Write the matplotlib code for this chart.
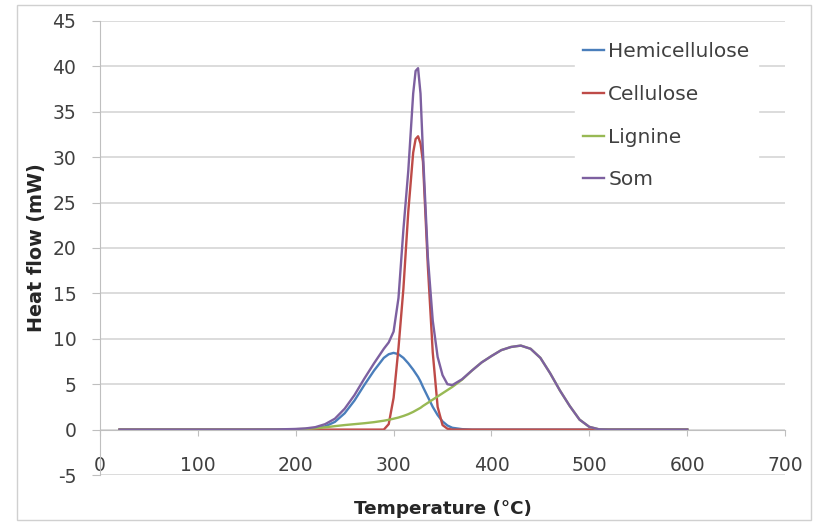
"""DSC heat flow deconvolution: hemicellulose / cellulose / lignine and their sum."""
import numpy as np
import matplotlib
matplotlib.use("Agg")
import matplotlib.pyplot as plt
from matplotlib.patches import Rectangle

plt.rcParams['font.family'] = ['DejaVu Sans']
plt.rcParams['axes.unicode_minus'] = False

# --- data (°C, mW) ---
temperature = [20, 50, 100, 150, 180, 200, 210, 220, 230, 240, 250, 260, 270, 280,
               290, 295, 300, 305, 310, 315, 320, 322.5, 325, 327.5, 330, 335, 340,
               345, 350, 355, 360, 370, 380, 390, 400, 410, 420, 430, 440, 450, 460,
               470, 480, 490, 500, 510, 520, 550, 600]
hemicellulose = [0, 0, 0, 0, 0, 0.02, 0.05, 0.12, 0.35, 0.85, 1.8, 3.2, 4.9, 6.5,
                 7.9, 8.3, 8.45, 8.3, 7.9, 7.3, 6.6, 6.2, 5.8, 5.3, 4.7, 3.6, 2.5,
                 1.6, 0.9, 0.45, 0.2, 0.05, 0, 0, 0, 0, 0, 0, 0, 0, 0,
                 0, 0, 0, 0, 0, 0, 0, 0]
cellulose = [0, 0, 0, 0, 0, 0, 0, 0, 0, 0, 0, 0, 0, 0,
             0, 0.6, 3.5, 9, 15.5, 24, 30.5, 32, 32.3, 31.5, 29.5, 18, 8.5,
             2.5, 0.5, 0.1, 0, 0, 0, 0, 0, 0, 0, 0, 0, 0, 0,
             0, 0, 0, 0, 0, 0, 0, 0]
lignine = [0, 0, 0, 0, 0.02, 0.05, 0.08, 0.15, 0.25, 0.38, 0.5, 0.6, 0.7, 0.82,
           0.98, 1.08, 1.2, 1.33, 1.5, 1.7, 1.95, 2.1, 2.25, 2.4, 2.6, 2.95, 3.3,
           3.65, 4.0, 4.35, 4.7, 5.5, 6.5, 7.4, 8.1, 8.75, 9.1, 9.25, 8.9, 7.9, 6.2,
           4.3, 2.6, 1.1, 0.3, 0.03, 0, 0, 0]
som = [0, 0, 0, 0, 0.02, 0.07, 0.13, 0.27, 0.6, 1.2, 2.3, 3.8, 5.6, 7.3,
       8.9, 9.6, 10.8, 14.5, 22, 28.5, 37, 39.5, 39.8, 37, 30.5, 19, 12,
       8, 6, 5.0, 4.9, 5.55, 6.5, 7.4, 8.1, 8.75, 9.1, 9.25, 8.9, 7.9, 6.2,
       4.3, 2.6, 1.1, 0.3, 0.03, 0, 0, 0]

series = [("Hemicellulose", hemicellulose, "#4A7EBB"),
          ("Cellulose", cellulose, "#BE4B48"),
          ("Lignine", lignine, "#98B954"),
          ("Som", som, "#7D60A0")]

fig = plt.figure(figsize=(8.14, 5.24), dpi=100)
ax = fig.add_axes([0.1229, 0.0935, 0.8415, 0.8665])

for name, vals, col in series:
    ax.plot(temperature, vals, color=col, lw=1.7, label=name, solid_joinstyle="round")

ax.set_xlim(0, 700)
ax.set_ylim(-5, 45)
ax.set_xticks(range(0, 701, 100))
ax.set_yticks(range(-5, 46, 5))
ax.grid(axis="y", color="#D9D9D9", lw=1.3)
ax.set_axisbelow(True)

for s in ["top", "right"]:
    ax.spines[s].set_visible(False)
ax.spines["left"].set_color("#BFBFBF")
ax.spines["bottom"].set_position(("data", 0))
ax.spines["bottom"].set_color("#BFBFBF")
ax.tick_params(axis="both", colors="#BFBFBF", labelcolor="#404040", labelsize=13.5)
ax.tick_params(axis="y", length=6, pad=11)
ax.tick_params(axis="x", length=4, pad=15)

ax.set_xlabel("Temperature (°C)", fontsize=13.2, fontweight="bold", color="#262626", labelpad=18)
ax.set_ylabel("Heat flow (mW)", fontsize=13.8, fontweight="bold", color="#262626", labelpad=5)

leg = ax.legend(loc="upper left", bbox_to_anchor=(575 / 814, 1 - 34 / 524),
                bbox_transform=fig.transFigure, borderaxespad=0, frameon=True,
                fontsize=14.5, handlelength=1.05, handletextpad=0.2, labelspacing=1.18,
                borderpad=0.4)
leg.get_frame().set_edgecolor("white")
leg.get_frame().set_facecolor("white")
leg.get_frame().set_alpha(1)
leg.get_frame().set_boxstyle("square", pad=0)
for t in leg.get_texts():
    t.set_color("#404040")

fig.patches.append(Rectangle((0.021, 0.008), 0.975, 0.982, transform=fig.transFigure,
                             fill=False, edgecolor="#D0D0D0", lw=1))

fig.savefig("out.png", dpi=100)
